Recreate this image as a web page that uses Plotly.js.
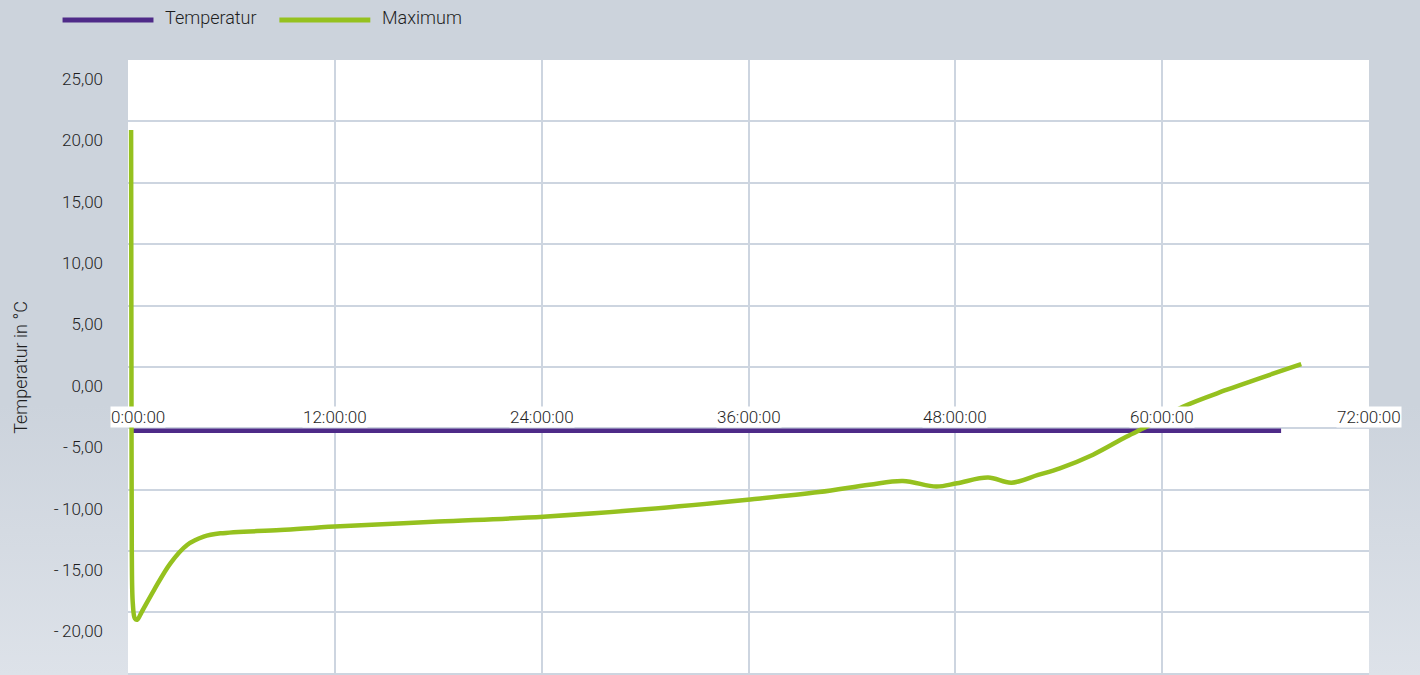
<!DOCTYPE html>
<html>
<head>
<meta charset="utf-8">
<script src="https://cdn.plot.ly/plotly-3.0.1.min.js"></script>
<style>
  html, body { margin: 0; padding: 0; }
  body { width: 1420px; height: 675px; overflow: hidden;
         background: linear-gradient(to bottom, #ccd3dc 0%, #ccd3dc 60%, #dde2e9 100%); }
  #chart { width: 1420px; height: 675px; }
</style>
</head>
<body>
<div id="chart"></div>
<script>
// ---- data (hours since start, °C) ----
const seriesNames = ['Temperatur', 'Maximum'];
const seriesColors = ['#4e2a88', '#95c11f'];

const tempHours  = [0.2, 12, 24, 36, 48, 60, 66.9];
const tempValues = [-5.2, -5.2, -5.2, -5.2, -5.2, -5.2, -5.2];

const maxHours  = [0.18, 0.2, 0.22, 0.28, 0.4, 0.53, 0.8, 1.5, 2.46, 3.43, 4.39, 5.36, 8.84, 12.0, 18.0, 24.1, 30.0, 36.1, 40.1, 43.0, 44.96, 46.9, 48.1, 49.9, 51.26, 52.8, 54.06, 55.99, 57.92, 59.28, 61.2, 63.72, 65.65, 68.07];
const maxValues = [19.3, 0.0, -15.0, -19.3, -20.5, -20.6, -19.95, -18.2, -16.0, -14.51, -13.83, -13.56, -13.29, -13.0, -12.6, -12.2, -11.6, -10.8, -10.2, -9.6, -9.29, -9.75, -9.48, -9.02, -9.43, -8.8, -8.26, -7.15, -5.69, -4.74, -3.25, -1.88, -0.93, 0.23];

const xTickVals  = [0, 12, 24, 36, 48, 60, 72];
const xTickText  = ['0:00:00', '12:00:00', '24:00:00', '36:00:00', '48:00:00', '60:00:00', '72:00:00'];
const yTickVals  = [25, 20, 15, 10, 5, 0, -5, -10, -15, -20, -25];
const yTickText  = ['25,00', '20,00', '15,00', '10,00', '5,00', '0,00', '-\u20095,00', '-\u200910,00', '-\u200915,00', '-\u200920,00', ''];
const yTitle = 'Temperatur in °C';
const xLabelLevel = -4.08;   // value at which the time labels sit

// ---- chart ----
const FONT = 'Roboto, "Noto Sans", sans-serif';
const TXT = '#1e1e1e';

const traces = [
  { x: tempHours, y: tempValues, name: seriesNames[0], type: 'scatter', mode: 'lines',
    line: { color: seriesColors[0], width: 4.5 }, hoverinfo: 'x+y' },
  { x: maxHours, y: maxValues, name: seriesNames[1], type: 'scatter', mode: 'lines',
    line: { color: seriesColors[1], width: 4.5, shape: 'spline', smoothing: 1.0 }, hoverinfo: 'x+y' }
];

const annotations = xTickVals.map((v, i) => ({
  x: v, y: xLabelLevel, xref: 'x', yref: 'y', text: xTickText[i], showarrow: false,
  xanchor: 'center', yanchor: 'middle', xshift: i === 0 ? 10 : 0,
  bgcolor: '#ffffff', borderpad: 0,
  font: { family: FONT, size: 17, color: TXT, weight: 300 }
}));

// custom legend (long line swatches)
const legendX = [62, 279];       // px of swatch start
const shapes = [];
seriesNames.forEach((n, i) => {
  shapes.push({ type: 'line', xref: 'paper', yref: 'paper',
    x0: (legendX[i] - 127.5) / 1242, x1: (legendX[i] + 91 - 127.5) / 1242,
    y0: (675 - 20) / 615, y1: (675 - 20) / 615,
    line: { color: seriesColors[i], width: 5 } });
  annotations.push({ xref: 'paper', yref: 'paper',
    x: (legendX[i] + 101 - 127.5) / 1242, y: (675 - 17) / 615,
    xanchor: 'left', yanchor: 'middle', showarrow: false, text: n,
    font: { family: FONT, size: 18, color: TXT, weight: 300 } });
});

const layout = {
  width: 1420, height: 675,
  margin: { l: 127.5, r: 50.5, t: 60, b: 0, pad: 0 },
  paper_bgcolor: 'rgba(0,0,0,0)',
  plot_bgcolor: '#ffffff',
  showlegend: false,
  font: { family: FONT, size: 17, color: TXT, weight: 300 },
  xaxis: {
    range: [0, 72], tickvals: xTickVals, showticklabels: false,
    showgrid: true, gridcolor: '#cdd5e0', gridwidth: 2,
    zeroline: false, showline: false, ticks: ''
  },
  yaxis: {
    range: [-25.1, 25], tickvals: yTickVals, ticktext: yTickText,
    showgrid: true, gridcolor: '#cdd5e0', gridwidth: 2,
    zeroline: false, showline: false, ticks: '',
    ticklabelstandoff: 24, ticklabelshift: 19,
    tickfont: { family: FONT, size: 17, color: TXT, weight: 300 },
    title: { text: yTitle, standoff: 21, font: { family: FONT, size: 18, color: TXT, weight: 300 } }
  },
  shapes: shapes,
  annotations: annotations
};

Plotly.newPlot('chart', traces, layout, { displayModeBar: false, staticPlot: true });
</script>
</body>
</html>
